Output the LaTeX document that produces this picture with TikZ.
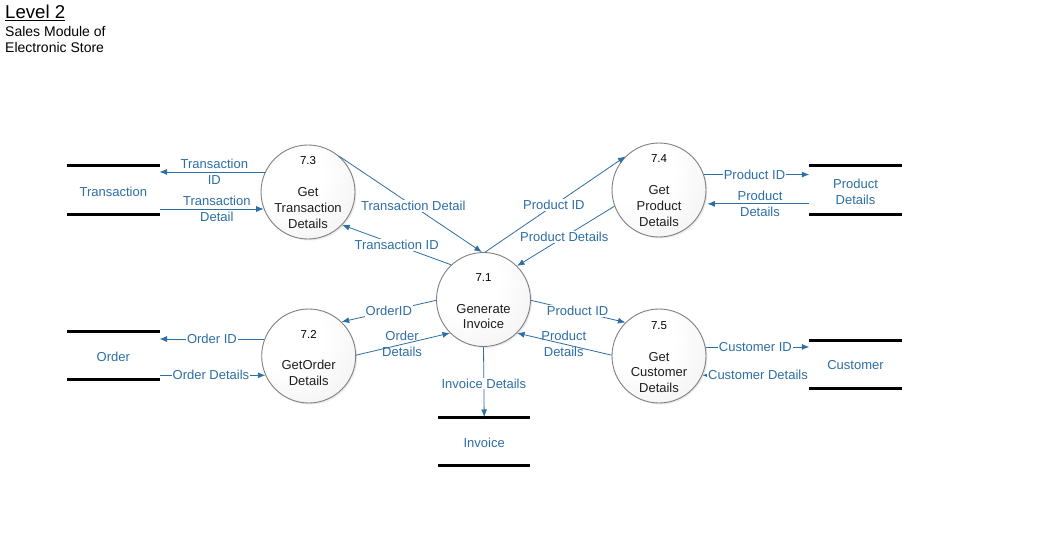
\documentclass[tikz,border=0pt]{standalone}
\usepackage{fontspec}
\setmainfont{Liberation Sans}
\usetikzlibrary{arrows.meta,shadows}
\definecolor{flowblue}{RGB}{45,110,165}
\definecolor{circtext}{RGB}{30,30,30}
\definecolor{circborder}{RGB}{128,128,128}
\definecolor{circouter}{RGB}{230,230,230}
\pgfdeclareradialshading{procshade}{\pgfpoint{-12bp}{12bp}}{color(0bp)=(white); color(18bp)=(white); color(62bp)=(circouter); color(100bp)=(circouter)}
\begin{document}
\begin{tikzpicture}[x=1pt,y=-1pt,
  proc/.style={circle, draw=circborder, line width=0.9pt, minimum size=94pt, inner sep=0pt,
    shading=procshade,
    drop shadow={opacity=0.15,shadow xshift=1.5pt,shadow yshift=-1.5pt}},
  ptext/.style={text=circtext, align=center, inner sep=0pt, font=\fontsize{13}{15.8}\selectfont},
  num/.style={text=black, inner sep=0pt, font=\fontsize{11.5}{12}\selectfont},
  store/.style={minimum width=92pt, minimum height=48pt, inner sep=0pt, text=flowblue,
    align=center, font=\fontsize{13}{16}\selectfont},
  storetext/.style={text=flowblue, align=center, inner sep=0pt, font=\fontsize{13}{16}\selectfont},
  storeline/.style={line width=3pt, black},
  flow/.style={draw=flowblue, line width=0.8pt, -{Latex[length=7.5pt,width=6pt]}},
  lbl/.style={fill=white, inner sep=1pt, text=flowblue, font=\fontsize{13}{16}\selectfont, align=center},
  lbl2/.style={inner sep=1pt, text=flowblue, font=\fontsize{13}{16}\selectfont, align=center}
]
\useasboundingbox (0,0) rectangle (1042,551);
\fill[white] (0,0) rectangle (1042,551);

% title
\node[anchor=base west, inner sep=0pt, font=\fontsize{18.6}{20}\selectfont] (title) at (5,18.3) {\underline{Level 2}};
\node[anchor=base west, inner sep=0pt, align=left, font=\fontsize{14}{15.7}\selectfont] (subtitle) at (5,52.3) {Sales Module of\\Electronic Store};

% data stores
\node[store] (sT) at (113.3,190) {};
\node[store] (sP) at (855.5,190) {};
\node[store] (sO) at (113.3,355.7) {};
\node[store] (sC) at (855.5,364.5) {};
\node[store] (sI) at (484.2,441.2) {};
\node[storetext] (lT) at ([yshift=-1.5pt]sT.center) {Transaction};
\node[storetext] (lP) at ([yshift=-1.5pt]sP.center) {Product\\Details};
\node[storetext] (lO) at ([yshift=-1.5pt]sO.center) {Order};
\node[storetext] (lC) at ([yshift=-1pt]sC.center) {Customer};
\node[storetext] (lI) at ([yshift=-1.5pt]sI.center) {Invoice};
\foreach \s in {sT,sP,sO,sC,sI}{
  \draw[storeline] (\s.north west) -- (\s.north east);
  \draw[storeline] (\s.south west) -- (\s.south east);
}

% processes
\node[proc] (p73) at (308,192) {};
\node[proc] (p74) at (659,190) {};
\node[proc] (p71) at (483.5,299.5) {};
\node[proc] (p72) at (308.7,356) {};
\node[proc] (p75) at (659,356) {};

\node[num] (n73) at ([yshift=31pt]p73.center) {7.3};
\node[ptext] (t73) at ([yshift=-16pt]p73.center) {Get\\Transaction\\Details};
\node[num] (n74) at ([yshift=31pt]p74.center) {7.4};
\node[ptext] (t74) at ([yshift=-16pt]p74.center) {Get\\Product\\Details};
\node[num] (n71) at ([yshift=22pt]p71.center) {7.1};
\node[ptext] (t71) at ([yshift=-17pt]p71.center) {Generate\\Invoice};
\node[num] (n72) at ([yshift=22pt]p72.center) {7.2};
\node[ptext] (t72) at ([yshift=-16.5pt]p72.center) {GetOrder\\Details};
\node[num] (n75) at ([yshift=30pt]p75.center) {7.5};
\node[ptext] (t75) at ([yshift=-16.5pt]p75.center) {Get\\Customer\\Details};

% flows
\draw[flow] (p73.155) -- (p73.155 -| sT.east) node[lbl2,pos=.48] (f1) {Transaction\\ID};
\draw[flow] (p73.201 -| sT.east) -- (p73.201) node[lbl2,pos=.55] (f2) {Transaction\\Detail};
\draw[flow] (p73.49) -- (p71.92) node[lbl,pos=.52] (f3) {Transaction Detail};
\draw[flow] (p71.133) -- (p73.316) node[lbl,pos=.5] (f4) {Transaction ID};
\draw[flow] (p71.88) -- (p74.135) node[lbl,pos=.49] (f5) {Product ID};
\draw[flow] (p74.200) -- (p71.45) node[lbl,pos=.515] (f6) {Product Details};
\draw[flow] (p74.19) -- (p74.19 -| sP.west) node[lbl,pos=.48] (f7) {Product ID};
\draw[flow,shorten >=3pt] (p74.343 -| sP.west) -- (p74.343) node[lbl2,pos=.47] (f8) {Product\\Details};
\draw[flow] (p71.181) -- (p72.46) node[lbl,pos=.5] (f9) {OrderID};
\draw[flow] (p72.1) -- (p71.225) node[lbl2,pos=.49] (f10) {Order\\Details};
\draw[flow] (p71.359) -- (p75.135) node[lbl,pos=.494] (f11) {Product ID};
\draw[flow] (p75.179) -- (p71.315) node[lbl2,pos=.506] (f12) {Product\\Details};
\draw[flow] (p71.270) -- (sI.north) node[lbl,pos=.52] (f13) {Invoice Details};
\draw[flow] (p72.159) -- (p72.159 -| sO.east) node[lbl,pos=.5] (f14) {Order ID};
\draw[flow] (p72.204 -| sO.east) -- (p72.204) node[lbl,pos=.486] (f15) {Order Details};
\draw[flow] (p75.11) -- (p75.11 -| sC.west) node[lbl,pos=.48] (f16) {Customer ID};
\draw[flow] (p75.336 -| sC.west) -- (p75.336) node[lbl,pos=.48] (f17) {Customer Details};
\end{tikzpicture}
\end{document}
